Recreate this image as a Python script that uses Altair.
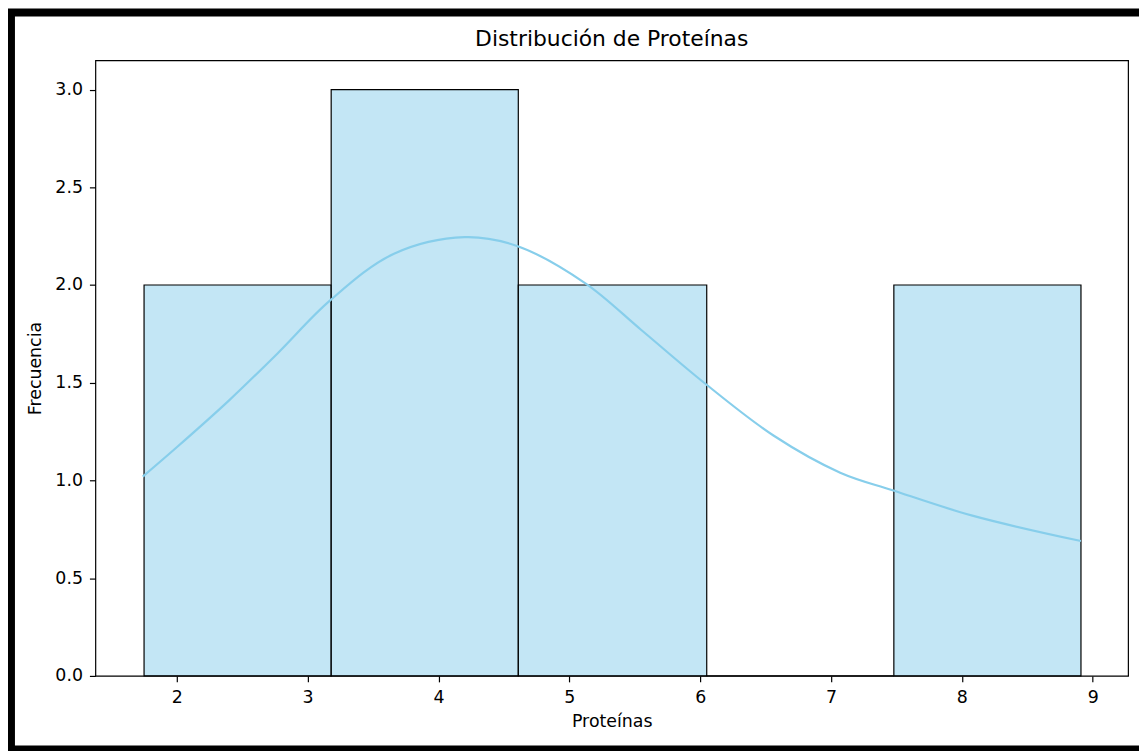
import altair as alt
import pandas as pd

# Histogram bins (Proteínas) and counts
bin_start = [1.75, 3.18, 4.61, 6.05, 7.48]
bin_end = [3.18, 4.61, 6.05, 7.48, 8.91]
counts = [2, 3, 2, 0, 2]

# KDE curve
kde_x = [1.74, 2.0, 2.4, 2.77, 3.17, 3.66, 4.2, 4.6, 5.12, 5.55, 6.03, 6.56, 7.07, 7.47, 8.08, 8.91]
kde_y = [1.02, 1.17, 1.41, 1.65, 1.92, 2.16, 2.245, 2.20, 2.01, 1.77, 1.50, 1.23, 1.04, 0.95, 0.82, 0.69]

x_ticks = [2, 3, 4, 5, 6, 7, 8, 9]
y_ticks = [0.0, 0.5, 1.0, 1.5, 2.0, 2.5, 3.0]

bars_df = pd.DataFrame({"start": bin_start, "end": bin_end, "count": counts})
kde_df = pd.DataFrame({"x": kde_x, "y": kde_y})
one = pd.DataFrame({"a": [0]})

FONT = "DejaVu Sans"
FS = 17.5

xscale = alt.Scale(domain=[1.378, 9.27], nice=False, zero=False)
yscale = alt.Scale(domain=[0, 3.15], nice=False)

xaxis = alt.Axis(values=x_ticks, format="d", title="Proteínas", grid=False, domain=False,
                 tickColor="black", tickSize=6, tickWidth=1.2, labelPadding=7,
                 labelFontSize=FS, labelColor="black", labelFont=FONT,
                 titleFontSize=FS, titleFontWeight="normal", titleColor="black",
                 titleFont=FONT, titlePadding=6)
yaxis = alt.Axis(values=y_ticks, format=".1f", title="Frecuencia", grid=False, domain=False,
                 tickColor="black", tickSize=6, tickWidth=1.2, labelPadding=7,
                 labelFontSize=FS, labelColor="black", labelFont=FONT,
                 titleFontSize=FS, titleFontWeight="normal", titleColor="black",
                 titleFont=FONT, titlePadding=10)

bars = alt.Chart(bars_df).mark_rect(
    fill="#87ceeb", fillOpacity=0.5, stroke="black", strokeWidth=1.2
).encode(
    x=alt.X("start:Q", scale=xscale, axis=xaxis),
    x2="end:Q",
    y=alt.Y("count:Q", scale=yscale, axis=yaxis),
    y2=alt.datum(0),
)

line = alt.Chart(kde_df).mark_line(
    color="#87ceeb", strokeWidth=2.2, interpolate="catmull-rom"
).encode(
    x=alt.X("x:Q", scale=xscale),
    y=alt.Y("y:Q", scale=yscale),
)

# decorative outer frame of the picture
frame_top = alt.Chart(one).mark_rule(color="black", strokeWidth=8).encode(
    x=alt.value(-88), x2=alt.value(1051), y=alt.value(-48))
frame_left = alt.Chart(one).mark_rule(color="black", strokeWidth=8).encode(
    x=alt.value(-85), y=alt.value(-50), y2=alt.value(700))
frame_bottom = alt.Chart(one).mark_rule(color="black", strokeWidth=8).encode(
    x=alt.value(-88), x2=alt.value(1051), y=alt.value(694))

chart = alt.layer(bars, line, frame_top, frame_left, frame_bottom).properties(
    width=1040,
    height=620,
    autosize=alt.AutoSizeParams(type="none"),
    padding={"left": 88, "top": 50, "right": 11, "bottom": 73},
    background="white",
    title=alt.TitleParams("Distribución de Proteínas", fontSize=22, font=FONT,
                          fontWeight="normal", color="black", offset=-62,
                          baseline="alphabetic", anchor="middle", frame="group"),
).configure_view(
    stroke="black", strokeWidth=1.2
)

chart.save("out.html", embed_options={"renderer": "svg", "actions": False})
